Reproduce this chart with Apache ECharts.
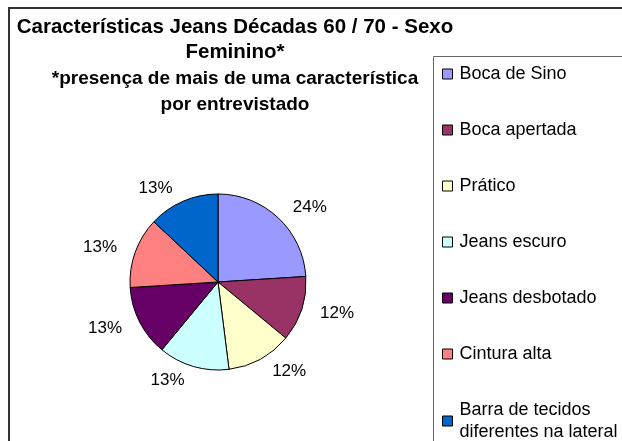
<!DOCTYPE html>
<html>
<head>
<meta charset="utf-8">
<script src="https://cdn.jsdelivr.net/npm/echarts@6/dist/echarts.min.js"></script>
<style>
  html, body { margin: 0; padding: 0; background: #fff; }
  #chart { width: 622px; height: 441px; }
</style>
</head>
<body>
<div id="chart"></div>
<script>
  const categories = [
    'Boca de Sino',
    'Boca apertada',
    'Prático',
    'Jeans escuro',
    'Jeans desbotado',
    'Cintura alta',
    'Barra de tecidos diferentes na lateral',
  ];
  const percents = [24, 12, 12, 13, 13, 13, 13];
  const colors = ['#9999FF', '#993366', '#FFFFCC', '#CCFFFF', '#660066', '#FF8080', '#0066CC'];

  const chart = echarts.init(document.getElementById('chart'));
  chart.setOption({
    animation: false,
    color: colors,
    title: {
      text: 'Características Jeans Décadas 60 / 70 - Sexo\nFeminino*',
      subtext: '*presença de mais de uma característica\npor entrevistado',
      left: 235,
      top: 15,
      textAlign: 'center',
      itemGap: 1,
      padding: 0,
      textStyle: {
        fontFamily: 'Liberation Sans',
        fontSize: 20.5,
        fontWeight: 'bold',
        color: '#000',
        lineHeight: 25,
      },
      subtextStyle: {
        fontFamily: 'Liberation Sans',
        fontSize: 19,
        fontWeight: 'bold',
        color: '#000',
        lineHeight: 26,
      },
    },
    legend: {
      orient: 'vertical',
      left: 442,
      top: 63,
      height: 800,
      padding: 0,
      itemWidth: 10,
      itemHeight: 10,
      itemGap: 34,
      icon: 'rect',
      itemStyle: { borderColor: '#000', borderWidth: 1 },
      textStyle: {
        fontFamily: 'Liberation Sans',
        fontSize: 18,
        color: '#000',
        width: 175,
        overflow: 'break',
        lineHeight: 22,
        padding: [0, 0, 0, 2],
      },
    },
    graphic: [
      {
        type: 'rect',
        shape: { x: 9, y: 8, width: 640, height: 460 },
        style: { fill: 'none', stroke: '#333', lineWidth: 2 },
        z: -1,
      },
      {
        type: 'rect',
        shape: { x: 433.5, y: 56.5, width: 220, height: 420 },
        style: { fill: 'none', stroke: '#666', lineWidth: 1 },
        z: -1,
      },
    ],
    series: [
      {
        type: 'pie',
        center: [218, 282],
        radius: 88,
        startAngle: 90,
        clockwise: true,
        avoidLabelOverlap: false,
        itemStyle: { borderColor: '#000', borderWidth: 1 },
        label: {
          show: true,
          position: 'outside',
          formatter: '{c}%',
          fontFamily: 'Liberation Sans',
          fontSize: 17,
          color: '#000',
        },
        labelLine: { show: false, length: 14, length2: 0 },
        emphasis: { disabled: true },
        data: categories.map((name, i) => ({ name: name, value: percents[i] })),
      },
    ],
  });
</script>
</body>
</html>
